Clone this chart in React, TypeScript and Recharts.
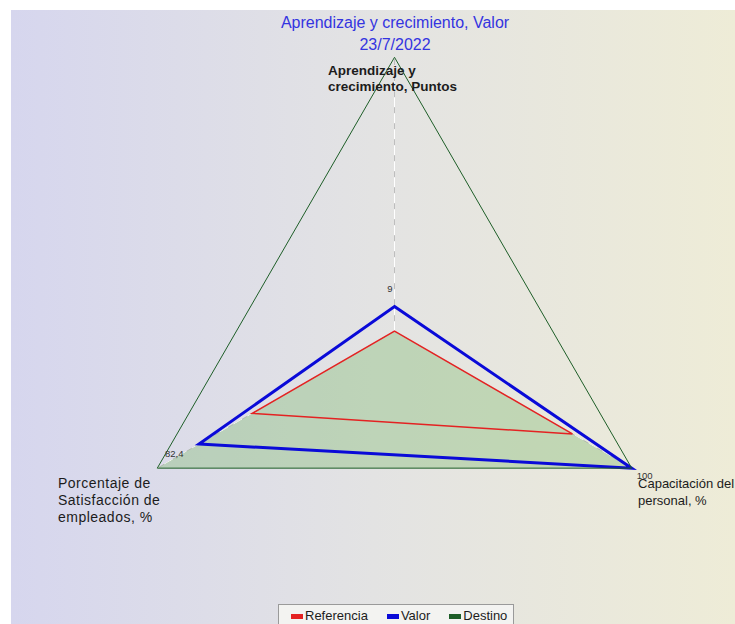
import React from 'react';
import {
  RadarChart,
  Radar,
  PolarGrid,
  PolarAngleAxis,
  PolarRadiusAxis,
  Legend,
  LabelList,
} from 'recharts';

// Axis categories (clockwise from the top)
const axes = [
  'Aprendizaje y crecimiento, Puntos',
  'Capacitación del personal, %',
  'Porcentaje de Satisfacción de empleados, %',
];
const axisLabelLines = [
  ['Aprendizaje y', 'crecimiento, Puntos'],
  ['Capacitación del', 'personal, %'],
  ['Porcentaje de', 'Satisfacción de', 'empleados, %'],
];

// Series values (percent of each axis)
const referencia = [0, 75, 60];
const valor = [9, 100, 82.4];
const destino = [100, 100, 100];
const zonaDestino = [0, 100, 100];

const seriesOrder = ['Referencia', 'Valor', 'Destino'];

const titulo = 'Aprendizaje y crecimiento, Valor';
const fecha = '23/7/2022';

const data = axes.map((axis, i) => ({
  axis,
  referencia: referencia[i],
  valor: valor[i],
  destino: destino[i],
  zona: zonaDestino[i],
}));

const FONT = '"Liberation Sans", Arial, sans-serif';

// Label placement relative to the angle-axis tick point
const tickStyles = [
  { dx: -66.5, dy: 25.7, lh: 16, bold: true, size: 13.5, spacing: 0 },
  { dx: -0.6, dy: 15.8, lh: 17, bold: false, size: 13, spacing: 0 },
  { dx: -92.4, dy: 15.8, lh: 17, bold: false, size: 14, spacing: 0.5 },
];

const AxisTick = (props: any) => {
  const { x, y, index } = props;
  const s = tickStyles[index] ?? tickStyles[0];
  const lines = axisLabelLines[index] ?? [];
  return (
    <text
      x={x + s.dx}
      y={y + s.dy}
      textAnchor="start"
      fontFamily={FONT}
      fontSize={s.size}
      fontWeight={s.bold ? 'bold' : 'normal'}
      letterSpacing={s.spacing}
      fill="#1c1c1c"
    >
      {lines.map((line, i) => (
        <tspan key={i} x={x + s.dx} dy={i === 0 ? 0 : s.lh}>
          {line}
        </tspan>
      ))}
    </text>
  );
};

// Value labels for the "Valor" series
const valueLabelStyles = [
  { dx: -4.7, dy: -15, anchor: 'middle' },
  { dx: 5, dy: 11, anchor: 'start' },
  { dx: -34, dy: 13, anchor: 'start' },
];

const ValueLabel = (props: any) => {
  const { x, y, value, index } = props;
  const s = valueLabelStyles[index] ?? valueLabelStyles[0];
  const text = String(value).replace('.', ',');
  return (
    <text
      x={x + s.dx}
      y={y + s.dy}
      textAnchor={s.anchor}
      fontFamily={FONT}
      fontSize={9.5}
      fill="#333"
    >
      {text}
    </text>
  );
};

const LegendBox = (props: any) => {
  const items = (props.payload ?? [])
    .filter((p: any) => p.type !== 'none')
    .slice()
    .sort((a: any, b: any) => seriesOrder.indexOf(a.value) - seriesOrder.indexOf(b.value));
  return (
    <div
      style={{
        boxSizing: 'border-box',
        height: 26,
        border: '1px solid #9a9a9a',
        background: '#f3f3f1',
        display: 'flex',
        alignItems: 'flex-start',
        paddingLeft: 12,
        paddingTop: 2,
        fontFamily: FONT,
        fontSize: 13,
        color: '#1c1c1c',
      }}
    >
      {items.map((item: any, i: number) => (
        <div
          key={i}
          style={{ display: 'flex', alignItems: 'center', marginRight: 19, lineHeight: '18px' }}
        >
          <span
            style={{
              display: 'inline-block',
              width: 12,
              height: 5,
              background: item.color,
              marginRight: 2,
            }}
          />
          <span>{item.value}</span>
        </div>
      ))}
    </div>
  );
};

export default function App() {
  return (
    <div style={{ position: 'absolute', left: 0, top: 0, width: 735, height: 624 }}>
      <div
        style={{
          position: 'absolute',
          left: 11,
          top: 10,
          width: 724,
          height: 614,
          background: 'linear-gradient(to right, #d6d6ee, #e3e3e3 50%, #eeecd7)',
        }}
      />
      <div
        style={{
          position: 'absolute',
          left: 195,
          top: 11.5,
          width: 400,
          textAlign: 'center',
          fontFamily: FONT,
          fontSize: 16,
          lineHeight: '22px',
          color: '#3434e0',
        }}
      >
        <div>{titulo}</div>
        <div>{fecha}</div>
      </div>
      <div style={{ position: 'absolute', left: 0, top: 0 }}>
        <RadarChart
          width={735}
          height={624}
          data={data}
          cx={394.5}
          cy={331.2}
          outerRadius={273.9}
          margin={{ top: 0, right: 0, bottom: 0, left: 0 }}
        >
          <PolarGrid gridType="polygon" polarRadius={[]} stroke="#bdbdbd" strokeWidth={1} />
          <PolarGrid
            gridType="polygon"
            polarRadius={[]}
            stroke="#ffffff"
            strokeWidth={1}
            strokeDasharray="10 6"
          />
          <PolarAngleAxis dataKey="axis" tick={<AxisTick />} tickLine={false} axisLine={false} />
          <PolarRadiusAxis domain={[0, 100]} angle={90} tick={false} axisLine={false} />
          <Radar
            name="zona"
            dataKey="zona"
            stroke="none"
            fill="#77b666"
            fillOpacity={0.35}
            legendType="none"
            isAnimationActive={false}
          />
          <Radar
            name="Referencia"
            dataKey="referencia"
            stroke="#e42222"
            strokeWidth={1.5}
            fill="none"
            fillOpacity={0}
            isAnimationActive={false}
          />
          <Radar
            name="Valor"
            dataKey="valor"
            stroke="#0a0ad8"
            strokeWidth={3}
            fill="none"
            fillOpacity={0}
            isAnimationActive={false}
          >
            <LabelList dataKey="valor" content={<ValueLabel />} />
          </Radar>
          <Radar
            name="Destino"
            dataKey="destino"
            stroke="#1e5e28"
            strokeWidth={1}
            fill="none"
            fillOpacity={0}
            isAnimationActive={false}
          />
          <Legend
            content={<LegendBox />}
            wrapperStyle={{ position: 'absolute', left: 278, top: 604, bottom: 'auto', width: 236, height: 26 }}
          />
        </RadarChart>
      </div>
    </div>
  );
}
